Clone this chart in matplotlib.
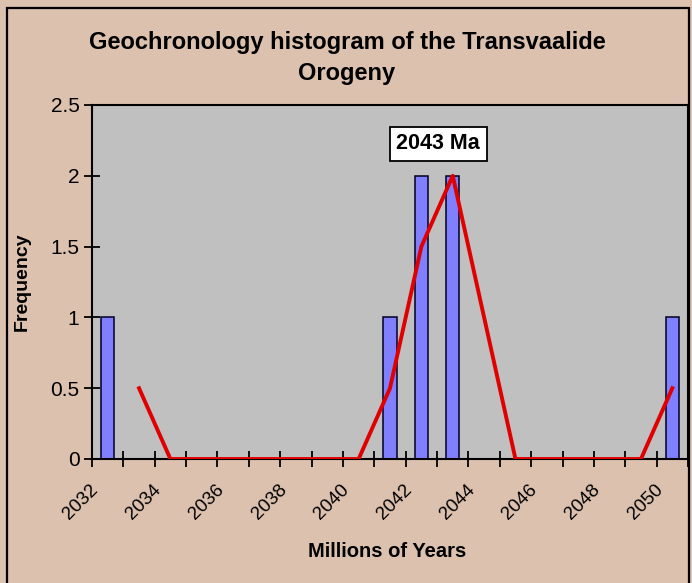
import matplotlib.pyplot as plt
from matplotlib.patches import Rectangle

# data
years = list(range(2032, 2051))
frequency = [1, 0, 0, 0, 0, 0, 0, 0, 0, 1, 2, 2, 0, 0, 0, 0, 0, 0, 1]
# 2 period moving average (red line), starts at 2033
ma_years = list(range(2033, 2051))
ma_values = [0.5, 0, 0, 0, 0, 0, 0, 0, 0.5, 1.5, 2, 1, 0, 0, 0, 0, 0, 0.5]
tick_years = list(range(2032, 2051, 2))

plt.rcParams['font.family'] = ['Liberation Sans', 'DejaVu Sans']

bg = '#dbc1ae'
fig = plt.figure(figsize=(6.92, 5.83), dpi=100, facecolor=bg)
W, H = 692, 583

# outer frame
fig.patches.append(Rectangle((7 / W, -0.01), 682 / W, 1 - 8 / H + 0.01,
                             transform=fig.transFigure, fill=False,
                             edgecolor='black', linewidth=1.6))

ax = fig.add_axes([92 / W, (H - 459) / H, 596 / W, 354 / H])
ax.set_facecolor('#c0c0c0')

pos = [y - years[0] for y in years]
ax.bar(pos, frequency, width=0.43, color='#8080ff', edgecolor='#000020',
       linewidth=1.1, zorder=2)
ma_pos = [y - years[0] for y in ma_years]
ax.plot(ma_pos, ma_values, color='#e00000', linewidth=2.8, zorder=3)

ax.set_xlim(-0.5, len(years) - 0.5)
ax.set_ylim(0, 2.5)
ax.set_yticks([0, 0.5, 1, 1.5, 2, 2.5])
ax.set_yticklabels(['0', '0.5', '1', '1.5', '2', '2.5'], fontsize=15)

# ticks on category boundaries, labels at every other category
ax.set_xticks([i - 0.5 for i in range(len(years) + 1)])
ax.set_xticklabels([])
for y in tick_years:
    ax.text(y - years[0] - 0.38, -28 / 354, str(y), rotation=45,
            ha='right', va='center', rotation_mode='anchor', fontsize=13.5,
            transform=ax.get_xaxis_transform())
ax.tick_params(axis='x', direction='inout', length=11, width=1.3)
ax.tick_params(axis='y', direction='inout', length=12, width=1.3, pad=3)

for s in ax.spines.values():
    s.set_linewidth(1.5)
    s.set_color('black')

fig.text(387.5 / W, 1 - 557 / H, 'Millions of Years', ha='center',
         va='baseline', fontsize=14.5, fontweight='bold')
fig.text(22.5 / W, 1 - 282 / H, 'Frequency', rotation=90, ha='center',
         va='center', fontsize=14, fontweight='bold')

fig.text(347 / W, 1 - 49 / H, 'Geochronology histogram of the Transvaalide',
         ha='center', va='baseline', fontsize=17, fontweight='bold')
fig.text(347 / W, 1 - 80 / H, 'Orogeny', ha='center', va='baseline',
         fontsize=17, fontweight='bold')

ax.text(10.54, 2.225, '2043 Ma', ha='center', va='center', fontsize=15.5,
        fontweight='bold', zorder=4,
        bbox=dict(boxstyle='square,pad=0.3', facecolor='white',
                  edgecolor='black', linewidth=1.3))

fig.savefig('out.png', dpi=100, facecolor=bg)
